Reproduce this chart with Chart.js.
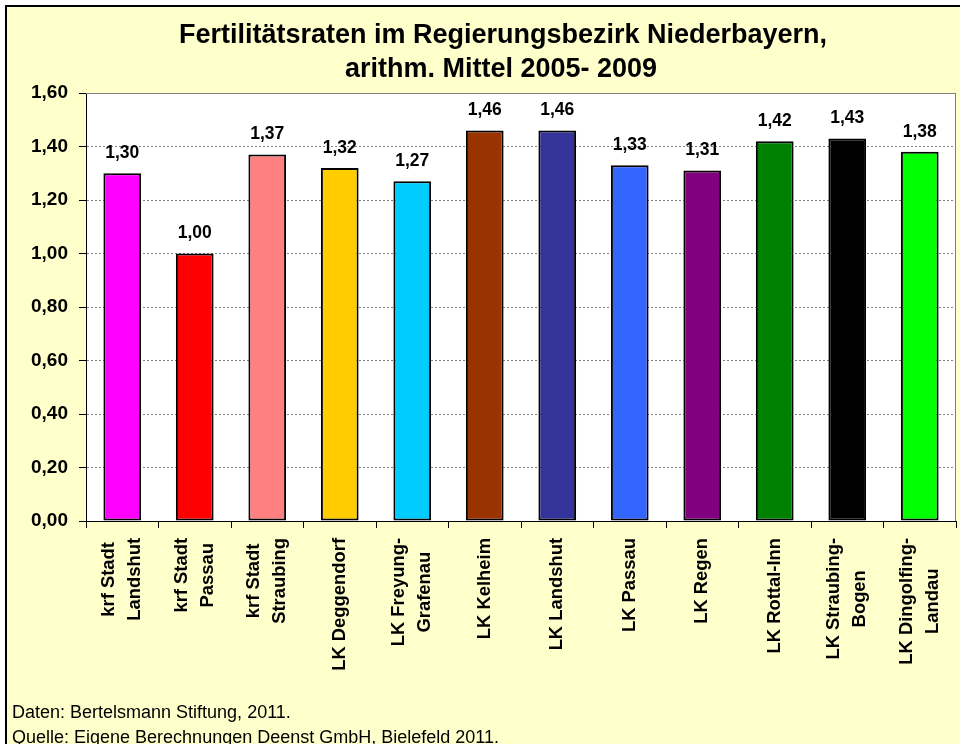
<!DOCTYPE html>
<html>
<head>
<meta charset="utf-8">
<title>Fertilitätsraten Niederbayern</title>
<script src="https://cdn.jsdelivr.net/npm/chart.js@4.4.0/dist/chart.umd.min.js"></script>
<style>
  html, body { margin: 0; padding: 0; background: #fff; }
  #wrap { width: 960px; height: 744px; }
</style>
</head>
<body>
<div id="wrap"><canvas id="myChart" width="960" height="744"></canvas></div>
<script>
// chart data
const categories = [
  ['krf Stadt', 'Landshut'],
  ['krf Stadt', 'Passau'],
  ['krf Stadt', 'Straubing'],
  ['LK Deggendorf'],
  ['LK Freyung-', 'Grafenau'],
  ['LK Kelheim'],
  ['LK Landshut'],
  ['LK Passau'],
  ['LK Regen'],
  ['LK Rottal-Inn'],
  ['LK Straubing-', 'Bogen'],
  ['LK Dingolfing-', 'Landau']
];
const values = [1.30, 1.00, 1.37, 1.32, 1.27, 1.46, 1.46, 1.33, 1.31, 1.42, 1.43, 1.38];
const barColors = [
  '#FF00FF', '#FF0000', '#FF8080', '#FFCC00', '#00CCFF', '#993300',
  '#333399', '#3366FF', '#800080', '#008000', '#000000', '#00FF00'
];
const yMin = 0;
const yMax = 1.6;
const yStep = 0.2;
const titleLines = ['Fertilitätsraten im Regierungsbezirk Niederbayern,', 'arithm. Mittel 2005- 2009'];
const footerLines = ['Daten: Bertelsmann Stiftung, 2011.', 'Quelle: Eigene Berechnungen Deenst GmbH, Bielefeld 2011.'];

const FONT = '"Liberation Sans", Arial, sans-serif';
const fmt = v => v.toFixed(2).replace('.', ',');

// background, frame, title, footer, rotated category labels and value labels
const decor = {
  id: 'decor',
  beforeDraw(chart) {
    const ctx = chart.ctx;
    const a = chart.chartArea;
    ctx.save();
    ctx.fillStyle = '#fff';
    ctx.fillRect(0, 0, chart.width, chart.height);
    ctx.fillStyle = '#FFFFCC';
    ctx.fillRect(6, 6, chart.width - 6, chart.height - 6);
    ctx.strokeStyle = '#000';
    ctx.lineWidth = 2;
    ctx.beginPath();
    ctx.moveTo(6, chart.height);
    ctx.lineTo(6, 6);
    ctx.lineTo(chart.width, 6);
    ctx.stroke();
    ctx.fillStyle = '#fff';
    ctx.fillRect(a.left, a.top, a.right - a.left, a.bottom - a.top);
    ctx.restore();
  },
  beforeDatasetsDraw(chart) {
    const ctx = chart.ctx;
    const a = chart.chartArea;
    ctx.save();
    ctx.strokeStyle = '#808080';
    ctx.lineWidth = 1;
    ctx.beginPath();
    ctx.moveTo(a.left, a.top + 0.5);
    ctx.lineTo(a.right - 0.5, a.top + 0.5);
    ctx.lineTo(a.right - 0.5, a.bottom);
    ctx.stroke();
    ctx.restore();
  },
  afterDraw(chart) {
    const ctx = chart.ctx;
    const xs = chart.scales.x;
    ctx.save();
    ctx.fillStyle = '#000';

    // title
    ctx.font = 'bold 27px ' + FONT;
    ctx.textAlign = 'center';
    ctx.textBaseline = 'alphabetic';
    ctx.fillText(titleLines[0], 503, 43);
    ctx.fillText(titleLines[1], 501, 77);

    // footer
    ctx.font = '18px ' + FONT;
    ctx.textAlign = 'left';
    ctx.fillText(footerLines[0], 12, 718);
    ctx.fillText(footerLines[1], 12, 743);

    // value labels
    const meta = chart.getDatasetMeta(0);
    ctx.font = 'bold 17.5px ' + FONT;
    ctx.textAlign = 'center';
    ctx.textBaseline = 'middle';
    meta.data.forEach((bar, i) => {
      ctx.fillText(fmt(values[i]), bar.x, bar.y - 20);
    });

    // category labels, rotated, lines centred on each other
    ctx.font = 'bold 18.4px ' + FONT;
    categories.forEach((lines, i) => {
      const x = xs.getPixelForTick(i);
      const w = Math.max(...lines.map(l => ctx.measureText(l).width));
      const cy = chart.chartArea.bottom + 17 + w / 2;
      lines.forEach((line, j) => {
        ctx.save();
        ctx.translate(x + (j - (lines.length - 1) / 2) * 26, cy);
        ctx.rotate(-Math.PI / 2);
        ctx.fillText(line, 0, 0);
        ctx.restore();
      });
    });
    ctx.restore();
  }
};

const config = {
  type: 'bar',
  data: {
    labels: categories,
    datasets: [{
      data: values,
      backgroundColor: barColors,
      borderColor: '#000',
      borderWidth: 2,
      borderSkipped: false,
      barPercentage: 0.52,
      categoryPercentage: 1
    }]
  },
  options: {
    responsive: false,
    animation: false,
    devicePixelRatio: 1,
    layout: { padding: { top: 93, right: 4, left: 0, bottom: 0 } },
    plugins: {
      legend: { display: false },
      title: { display: false },
      tooltip: { enabled: false }
    },
    scales: {
      x: {
        ticks: { display: false },
        grid: { drawOnChartArea: false, drawTicks: true, tickLength: 7, tickColor: '#000', color: '#000' },
        border: { color: '#000', width: 1 },
        afterFit: s => { s.height = 223; }
      },
      y: {
        min: yMin,
        max: yMax,
        ticks: {
          stepSize: yStep,
          color: '#000',
          padding: 11,
          font: { family: FONT, size: 19, weight: 'bold' },
          callback: v => fmt(v)
        },
        grid: { color: '#808080', tickColor: '#000', tickLength: 7, lineWidth: 1 },
        border: { color: '#000', width: 1, dash: [2, 2] },
        afterFit: s => { s.width = 86; }
      }
    }
  },
  plugins: [decor]
};

document.addEventListener('DOMContentLoaded', () => {
  new Chart(document.getElementById('myChart'), config);
});
</script>
</body>
</html>
